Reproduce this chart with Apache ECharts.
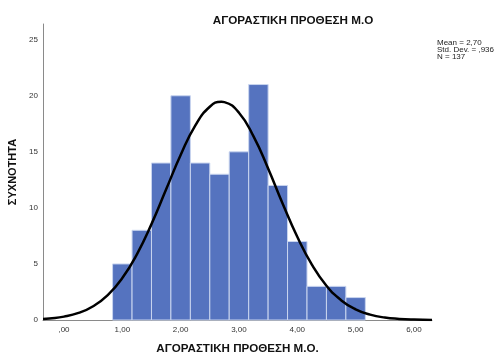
<!DOCTYPE html>
<html>
<head>
<meta charset="utf-8">
<script src="https://cdn.jsdelivr.net/npm/echarts@6/dist/echarts.min.js"></script>
<style>
  html, body { margin: 0; padding: 0; background: #fff; }
  #chart { width: 495px; height: 358px; }
</style>
</head>
<body>
<div id="chart"></div>
<script>
// histogram bins (width 1/3) and counts
const binEdges = [0.833, 1.167, 1.5, 1.833, 2.167, 2.5, 2.833, 3.167, 3.5, 3.833, 4.167, 4.5, 4.833, 5.167]
const counts = [5, 8, 14, 20, 14, 13, 15, 21, 12, 7, 3, 3, 2]

// fitted normal curve
const curveX = [-0.36, -0.25, 0, 0.25, 0.5, 0.75, 1, 1.25, 1.5, 1.75, 2, 2.25, 2.5, 2.7, 2.75, 3, 3.25, 3.5, 3.75, 4, 4.25, 4.5, 4.75, 5, 5.25, 5.5, 5.75, 6, 6.31]
const curveY = [0.09, 0.14, 0.3, 0.63, 1.23, 2.22, 3.74, 5.86, 8.55, 11.63, 14.71, 17.33, 19.02, 19.46, 19.43, 18.49, 16.38, 13.51, 10.37, 7.42, 4.94, 3.06, 1.77, 0.95, 0.48, 0.22, 0.1, 0.04, 0.01]

const xTicks = [0, 1, 2, 3, 4, 5, 6]
const yTicks = [0, 5, 10, 15, 20, 25]
const statLines = ['Mean = 2,70', 'Std. Dev. = ,936', 'N = 137']

const chart = echarts.init(document.getElementById('chart'))

const barData = counts.map((c, i) => [binEdges[i], binEdges[i + 1], c])
const lineData = curveX.map((x, i) => [x, curveY[i]])

const fmtX = (v) => {
  let s = v.toFixed(2).replace('.', ',')
  if (s.startsWith('0')) s = s.slice(1)
  return s
}

const option = {
  animation: false,
  textStyle: { fontFamily: 'Liberation Sans, Arial, sans-serif' },
  title: {
    text: 'ΑΓΟΡΑΣΤΙΚΗ ΠΡΟΘΕΣΗ Μ.Ο',
    left: 288,
    top: 10,
    textAlign: 'center',
    textStyle: { fontSize: 11.7, fontWeight: 'bold', color: '#111', fontFamily: 'Liberation Sans, Arial, sans-serif' },
  },
  graphic: [
    {
      type: 'text',
      left: 437,
      top: 39,
      style: {
        text: statLines.join('\n'),
        font: '8px "Liberation Sans", Arial, sans-serif',
        lineHeight: 7,
        fill: '#222',
      },
    },
  ],
  grid: { left: 43, right: 63, top: 24, bottom: 38, outerBoundsMode: 'none' },
  xAxis: {
    type: 'value',
    min: -0.36,
    max: 6.31,
    name: 'ΑΓΟΡΑΣΤΙΚΗ ΠΡΟΘΕΣΗ Μ.Ο.',
    nameLocation: 'middle',
    nameGap: 23,
    nameTextStyle: { fontSize: 11.6, fontWeight: 'bold', color: '#111' },
    axisLine: { onZero: false, lineStyle: { color: '#8a8a8a', width: 1 } },
    axisTick: { show: false },
    splitLine: { show: false },
    axisLabel: {
      customValues: xTicks,
      formatter: fmtX,
      fontSize: 8,
      color: '#333',
      margin: 6,
    },
  },
  yAxis: {
    type: 'value',
    min: 0,
    max: 26.4,
    name: 'ΣΥΧΝΟΤΗΤΑ',
    nameLocation: 'middle',
    nameGap: 14,
    nameTextStyle: { fontSize: 11, fontWeight: 'bold', color: '#111' },
    axisLine: { show: true, onZero: false, lineStyle: { color: '#8a8a8a', width: 1 } },
    axisTick: { show: false },
    splitLine: { show: false },
    axisLabel: {
      customValues: yTicks,
      fontSize: 8,
      color: '#333',
      margin: 5,
    },
  },
  series: [
    {
      type: 'custom',
      data: barData,
      encode: { x: [0, 1], y: 2 },
      renderItem: (params, api) => {
        const p0 = api.coord([api.value(0), 0])
        const p1 = api.coord([api.value(1), api.value(2)])
        return {
          type: 'rect',
          shape: { x: p0[0], y: p1[1], width: p1[0] - p0[0], height: p0[1] - p1[1] },
          style: { fill: '#5573bf', stroke: '#c9d5ef', lineWidth: 1 },
        }
      },
    },
    {
      type: 'line',
      data: lineData,
      smooth: true,
      showSymbol: false,
      lineStyle: { color: '#000', width: 2.5 },
      z: 5,
    },
  ],
}

chart.setOption(option)
</script>
</body>
</html>
